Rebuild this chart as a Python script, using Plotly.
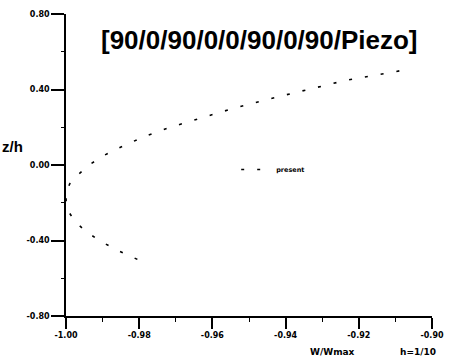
import plotly.graph_objects as go

# Data
z_h = [-0.50, -0.45, -0.40, -0.35, -0.30, -0.25, -0.20, -0.15, -0.10, -0.05,
       0.00, 0.05, 0.10, 0.15, 0.20, 0.25, 0.30, 0.35, 0.40, 0.45, 0.50]
w_wmax = [-0.9805, -0.9862, -0.9909, -0.9947, -0.9975, -0.9992, -0.99995, -1.0000, -0.9990, -0.9966,
          -0.9937, -0.9897, -0.9845, -0.9787, -0.9715, -0.9630, -0.9543, -0.9445, -0.9340, -0.9232, -0.9085]

title_text = "[90/0/90/0/0/90/0/90/Piezo]"
x_ticks = [-1.00, -0.98, -0.96, -0.94, -0.92, -0.90]
x_ticktext = ["-1.00", "-0.98", "-0.96", "-0.94", "-0.92", "-0.90"]
y_ticks = [-0.80, -0.40, 0.00, 0.40, 0.80]
y_ticktext = ["-0.80", "-0.40", "0.00", "0.40", "0.80"]

FONT = "Arial"
TICKFONT = "DejaVu Sans"

fig = go.Figure()
fig.add_trace(go.Scatter(
    x=w_wmax, y=z_h, mode="lines", name="<b>present</b>",
    line=dict(color="black", width=1.6, dash="3px,13px"),
))

fig.update_layout(
    width=454, height=360,
    margin=dict(l=66, r=18, t=10, b=44),
    paper_bgcolor="white", plot_bgcolor="white",
    showlegend=True,
    legend=dict(x=0.465, y=0.485, xanchor="left", yanchor="middle",
                bgcolor="rgba(0,0,0,0)",
                font=dict(family=TICKFONT, size=6.5, color="black")),
    xaxis=dict(range=[-1.0, -0.9], showgrid=False, zeroline=False,
               showline=True, linecolor="black", linewidth=1.6,
               ticks="outside", ticklen=11, tickwidth=1.6, tickcolor="black",
               tickvals=x_ticks, ticktext=["<b>%s</b>" % t for t in x_ticktext],
               tickfont=dict(family=TICKFONT, size=8, color="black"),
               minor=dict(ticks="outside", ticklen=4, tickwidth=1.3, tickcolor="black", dtick=0.01, tick0=-1.0)),
    yaxis=dict(range=[-0.8, 0.8], showgrid=False, zeroline=False,
               showline=True, linecolor="black", linewidth=1.6,
               ticks="outside", ticklen=13, tickwidth=1.6, tickcolor="black",
               tickvals=y_ticks, ticktext=["<b>%s</b>" % t for t in y_ticktext],
               tickfont=dict(family=TICKFONT, size=8, color="black"),
               minor=dict(ticks="outside", ticklen=3, tickwidth=1.3, tickcolor="black", dtick=0.2, tick0=-0.8)),
)

fig.add_annotation(text="<b>%s</b>" % title_text, xref="paper", yref="paper", x=0.53, y=0.915,
                   showarrow=False, xanchor="center", yanchor="middle",
                   font=dict(family=FONT, size=26, color="black"))
fig.add_annotation(text="<b>z/h</b>", xref="paper", yref="paper", x=-0.146, y=0.56,
                   showarrow=False, xanchor="center", yanchor="middle",
                   font=dict(family=FONT, size=15, color="black"))
fig.add_annotation(text="<b>W/Wmax</b>", xref="paper", yref="paper", x=0.727, y=-0.12,
                   showarrow=False, xanchor="center", yanchor="middle",
                   font=dict(family=TICKFONT, size=9, color="black"))
fig.add_annotation(text="<b>h=1/10</b>", xref="paper", yref="paper", x=0.962, y=-0.12,
                   showarrow=False, xanchor="center", yanchor="middle",
                   font=dict(family=TICKFONT, size=9, color="black"))

fig.write_html("out.html")
